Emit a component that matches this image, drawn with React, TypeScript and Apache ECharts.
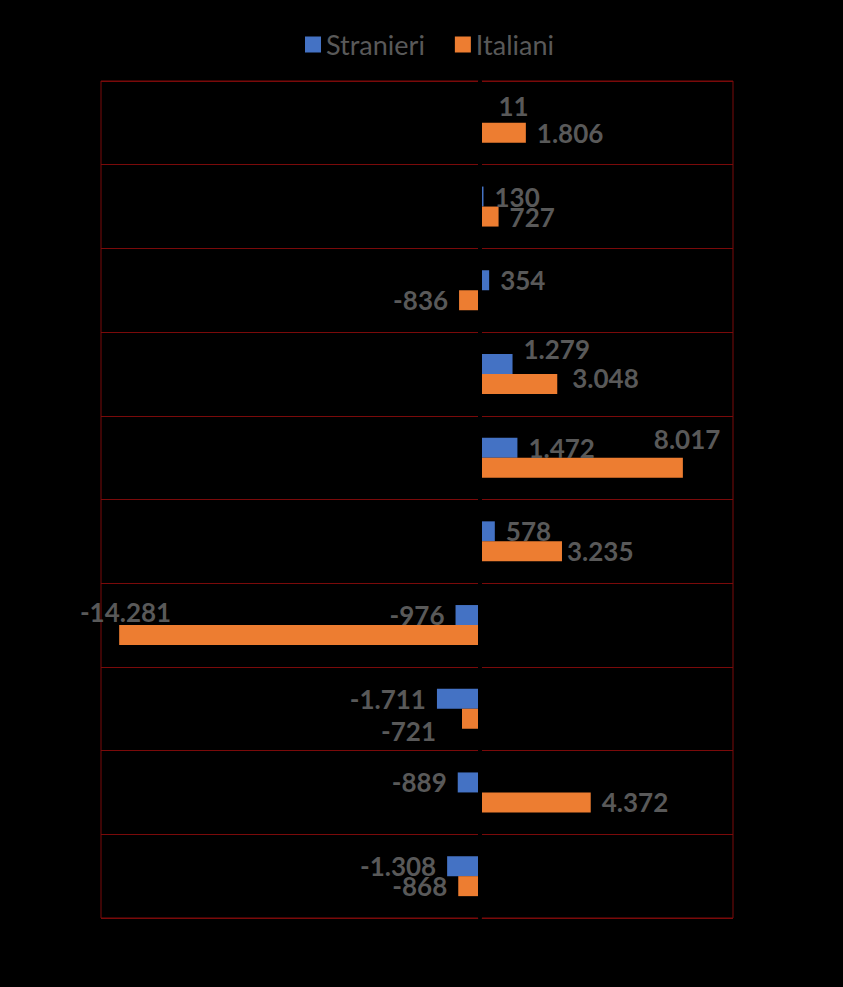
import React, { useEffect, useRef } from "react";
import * as echarts from "echarts";

const categories = ["1", "2", "3", "4", "5", "6", "7", "8", "9", "10"];
const stranieri = [11, 130, 354, 1279, 1472, 578, -976, -1711, -889, -1308];
const italiani = [1806, 727, -836, 3048, 8017, 3235, -14281, -721, 4372, -868];
const seriesNames = ["Stranieri", "Italiani"];
const xMin = -15000;
const xMax = 10000;
const xInterval = 5000;

// label nudges (pixels) mimicking the reference's label layout
const stranieriLabelOffsets: [number, number][] = [
  [7, -7], [0, 0], [0, 0], [0, -15], [0, 0], [0, 0], [0, 0], [0, 0], [0, 0], [0, 0],
];
const italianiLabelOffsets: [number, number][] = [
  [0, 0], [0, 0], [0, 0], [4, -6], [-40, -29], [-6, 0], [63, -23], [-15, 12], [0, 0], [0, 0],
];

const fmt = (v: number) => {
  const s = Math.abs(v).toString().replace(/\B(?=(\d{3})+(?!\d))/g, ".");
  return (v < 0 ? "-" : "") + s;
};

export default function App() {
  const ref = useRef<HTMLDivElement>(null);
  useEffect(() => {
    if (!ref.current) return;
    const chart = echarts.init(ref.current, undefined, { renderer: "svg" });
    const labelBase = {
      show: true,
      color: "#595959",
      fontFamily: "Lato",
      fontWeight: "bold" as const,
      fontSize: 26,
      distance: 11,
      formatter: (p: any) => fmt(p.value),
    };
    const mk = (vals: number[], offs: [number, number][]) =>
      vals.map((v, i) => ({
        value: v,
        label: { position: v >= 0 ? "right" : "left", offset: offs[i] },
      }));
    chart.setOption({
      animation: false,
      backgroundColor: "#000000",
      legend: {
        data: seriesNames,
        left: 300,
        top: 26,
        itemWidth: 16,
        itemHeight: 16,
        itemGap: 30,
        icon: "rect",
        textStyle: { color: "#595959", fontFamily: "Lato", fontSize: 27 },
      },
      grid: {
        left: 101,
        right: 110,
        top: 81,
        bottom: 69,
        show: true,
        borderColor: "#7a0a0a",
        borderWidth: 1,
        backgroundColor: "transparent",
      },
      xAxis: {
        type: "value",
        min: xMin,
        max: xMax,
        interval: xInterval,
        axisLabel: { show: false },
        axisLine: { show: false },
        axisTick: { show: false },
        splitLine: { show: false },
      },
      yAxis: {
        type: "category",
        data: categories,
        inverse: true,
        z: 10,
        axisLabel: { show: false },
        axisTick: { show: false },
        axisLine: { show: true, onZero: true, lineStyle: { color: "#000000", width: 4 } },
        splitLine: { show: true, interval: 0, lineStyle: { color: "#7a0a0a", width: 1 } },
      },
      series: [
        {
          name: seriesNames[0],
          type: "bar",
          barWidth: 20,
          barGap: "0%",
          itemStyle: { color: "#4472C4" },
          label: labelBase,
          data: mk(stranieri, stranieriLabelOffsets),
        },
        {
          name: seriesNames[1],
          type: "bar",
          barWidth: 20,
          barGap: "0%",
          itemStyle: { color: "#ED7D31" },
          label: labelBase,
          data: mk(italiani, italianiLabelOffsets),
        },
      ],
    });
    return () => chart.dispose();
  }, []);
  return (
    <div
      ref={ref}
      style={{ position: "fixed", left: 0, top: 0, width: 843, height: 987, background: "#000" }}
    />
  );
}
